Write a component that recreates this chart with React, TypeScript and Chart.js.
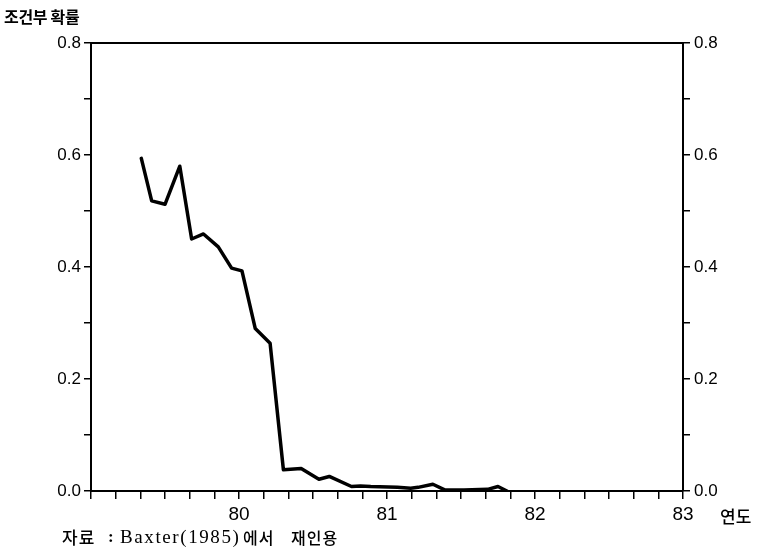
import React, { useEffect, useRef } from "react";
import { Chart, registerables } from "chart.js";

Chart.register(...registerables);

// Data (year as decimal, conditional probability)
const years: number[] = [
  79.34, 79.41, 79.5, 79.6, 79.68, 79.76, 79.86, 79.95, 80.02, 80.11, 80.21,
  80.3, 80.42, 80.54, 80.61, 80.76, 80.82, 80.89, 81.07, 81.16, 81.21, 81.31,
  81.39, 81.52, 81.68, 81.75, 81.81,
];
const probabilities: number[] = [
  0.594, 0.518, 0.512, 0.58, 0.45, 0.459, 0.436, 0.398, 0.393, 0.29, 0.264,
  0.038, 0.04, 0.021, 0.026, 0.008, 0.009, 0.008, 0.0065, 0.005, 0.0065, 0.012,
  0.002, 0.002, 0.003, 0.008, 0.0,
];
const xLabelYears: number[] = [80, 81, 82, 83];
const yLabelValues: number[] = [0, 0.2, 0.4, 0.6, 0.8];

const yTitle = "조건부 확률";
const xTitle = "연도";
// source note, split into its Korean / Latin runs so each can get its own font
const sourceNoteParts: string[] = ["자료", ":", "Baxter(1985)", "에서", "재인용"];

const NUM_FONT = "'Liberation Sans Narrow', 'Liberation Sans', Arial, sans-serif";
const KR_FONT = "'Noto Sans CJK KR', sans-serif";
const NOTE_FONT = "'Liberation Serif', 'Noto Sans CJK KR', serif";

export default function App() {
  const canvasRef = useRef<HTMLCanvasElement | null>(null);

  useEffect(() => {
    if (!canvasRef.current) return;

    const textPlugin = {
      id: "texts",
      afterDraw(chart: any) {
        const { ctx, chartArea } = chart;
        ctx.save();
        // top border of the frame
        ctx.strokeStyle = "#000";
        ctx.lineWidth = 2;
        ctx.beginPath();
        ctx.moveTo(chartArea.left - 1, chartArea.top);
        ctx.lineTo(chartArea.right + 1, chartArea.top);
        ctx.stroke();

        ctx.fillStyle = "#000";
        ctx.textBaseline = "middle";
        ctx.textAlign = "left";
        ctx.font = `bold 16px ${KR_FONT}`;
        (ctx as any).letterSpacing = "-0.3px";
        ctx.fillText(yTitle, 4, 17);
        ctx.font = `500 17px ${KR_FONT}`;
        (ctx as any).letterSpacing = "0px";
        ctx.fillText(xTitle, 720, 517);

        // source note
        const y = 538;
        ctx.font = `500 17px ${KR_FONT}`;
        (ctx as any).letterSpacing = "1px";
        ctx.fillText(sourceNoteParts[0], 62, y);
        ctx.font = `bold 17px ${NOTE_FONT}`;
        (ctx as any).letterSpacing = "0px";
        ctx.fillText(sourceNoteParts[1], 108, y);
        ctx.font = `19px ${NOTE_FONT}`;
        (ctx as any).letterSpacing = "1.6px";
        ctx.fillText(sourceNoteParts[2], 120, y);
        ctx.font = `500 16px ${KR_FONT}`;
        (ctx as any).letterSpacing = "1px";
        ctx.fillText(sourceNoteParts[3], 243, y);
        ctx.fillText(sourceNoteParts[4], 291, y);
        ctx.restore();
      },
    };

    const yTickCallback = (value: any) => {
      const v = Number(value);
      return yLabelValues.some((t) => Math.abs(t - v) < 1e-6) ? v.toFixed(1) : "";
    };
    const yTicksBuild = (scale: any) => {
      const arr = [];
      for (let i = 0; i <= 8; i++) arr.push({ value: i / 10 });
      scale.ticks = arr;
    };

    const chart = new Chart(canvasRef.current, {
      type: "line",
      data: {
        datasets: [
          {
            data: years.map((x, i) => ({ x, y: probabilities[i] })),
            borderColor: "#000",
            borderWidth: 3.5,
            borderJoinStyle: "round",
            borderCapStyle: "round",
            pointRadius: 0,
            tension: 0,
            fill: false,
            yAxisID: "y",
          },
        ],
      },
      options: {
        responsive: false,
        animation: false,
        layout: { padding: { top: 43, left: 0, right: 0, bottom: 0 } },
        plugins: { legend: { display: false }, tooltip: { enabled: false } },
        scales: {
          x: {
            type: "linear",
            min: 79,
            max: 83,
            afterBuildTicks: (scale: any) => {
              const arr = [];
              for (let i = 0; i <= 24; i++) arr.push({ value: 79 + i / 6 });
              scale.ticks = arr;
            },
            afterFit: (scale: any) => {
              scale.height = 61;
            },
            grid: {
              drawOnChartArea: false,
              drawTicks: true,
              tickLength: 8,
              color: "#000",
              lineWidth: 1.5,
            },
            border: { display: true, color: "#000", width: 2 },
            ticks: {
              autoSkip: false,
              maxRotation: 0,
              padding: 4,
              color: "#000",
              font: { family: NUM_FONT, size: 19 },
              callback: (value: any) => {
                const v = Number(value);
                const hit = xLabelYears.find((t) => Math.abs(t - v) < 1e-6);
                return hit !== undefined ? String(hit) : "";
              },
            },
          },
          y: {
            type: "linear",
            position: "left",
            min: 0,
            max: 0.8,
            afterBuildTicks: yTicksBuild,
            afterFit: (scale: any) => {
              scale.width = 91;
            },
            grid: {
              drawOnChartArea: false,
              drawTicks: true,
              tickLength: 7,
              color: "#000",
              lineWidth: 1.5,
            },
            border: { display: true, color: "#000", width: 2 },
            ticks: {
              autoSkip: false,
              padding: 3,
              color: "#000",
              font: { family: NUM_FONT, size: 17 },
              callback: yTickCallback,
            },
          },
          y2: {
            type: "linear",
            position: "right",
            min: 0,
            max: 0.8,
            afterBuildTicks: yTicksBuild,
            afterFit: (scale: any) => {
              scale.width = 78;
            },
            grid: {
              drawOnChartArea: false,
              drawTicks: true,
              tickLength: 7,
              color: "#000",
              lineWidth: 1.5,
            },
            border: { display: true, color: "#000", width: 2 },
            ticks: {
              autoSkip: false,
              padding: 4,
              color: "#000",
              font: { family: NUM_FONT, size: 17 },
              callback: yTickCallback,
            },
          },
        },
      },
      plugins: [textPlugin],
    } as any);

    return () => chart.destroy();
  }, []);

  return (
    <div style={{ position: "absolute", left: 0, top: 0, width: 761, height: 552, background: "#fff" }}>
      <canvas ref={canvasRef} width={761} height={552} style={{ display: "block" }} />
    </div>
  );
}
